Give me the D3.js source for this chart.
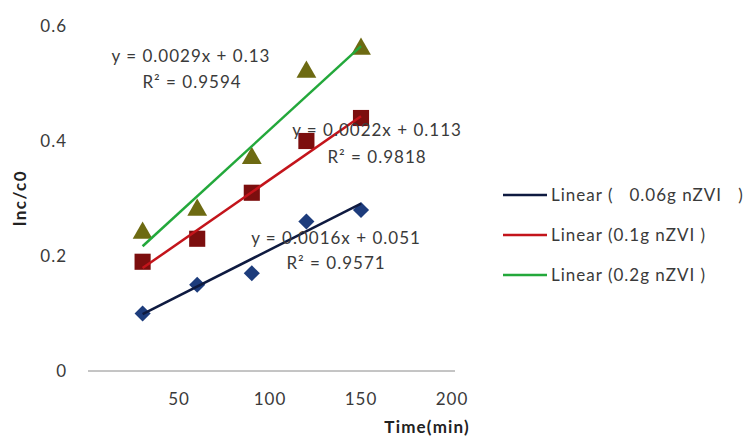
<!DOCTYPE html>
<html>
<head>
<meta charset="utf-8">
<script src="https://cdn.jsdelivr.net/npm/d3@7"></script>
<style>
  body { margin: 0; background: white; }
  text { font-family: Lato, "Open Sans", sans-serif; fill: #3a3a3a; }
</style>
</head>
<body>
<script>
// data
var times = [30, 60, 90, 120, 150]
var dose006 = [0.10, 0.15, 0.17, 0.26, 0.28]
var dose01 = [0.19, 0.23, 0.31, 0.40, 0.44]
var dose02 = [0.24, 0.28, 0.37, 0.52, 0.56]
var slopes = [0.0016, 0.0022, 0.0029]
var intercepts = [0.051, 0.113, 0.13]
var r2 = ["0.9571", "0.9818", "0.9594"]
var legendNames = ["Linear (   0.06g nZVI   )", "Linear (0.1g nZVI )", "Linear (0.2g nZVI )"]
var xTicks = [50, 100, 150, 200]
var yTicks = [0, 0.2, 0.4, 0.6]

var width = 749, height = 436

var svg = d3.select("body").append("svg")
	.attr("width", width).attr("height", height)

var x = d3.scaleLinear().domain([0, 200]).range([88, 452])
var y = d3.scaleLinear().domain([0, 0.6]).range([371, 26])

// x axis line and labels
svg.append("line")
	.attr("x1", x(0)).attr("x2", 455)
	.attr("y1", y(0)).attr("y2", y(0))
	.attr("stroke", "#8a8a8a").attr("stroke-width", 1)

svg.selectAll(".xt").data(xTicks).enter().append("text")
	.attr("x", function(d) { return x(d) }).attr("y", 405)
	.attr("text-anchor", "middle").attr("font-size", 17).attr("letter-spacing", 1)
	.text(function(d) { return d })

svg.selectAll(".yt").data(yTicks).enter().append("text")
	.attr("x", 67).attr("y", function(d) { return y(d) })
	.attr("dy", "0.35em")
	.attr("text-anchor", "end").attr("font-size", 17).attr("letter-spacing", 1)
	.text(function(d) { return d })

svg.append("text").text("Time(min)")
	.attr("x", 470).attr("y", 433)
	.attr("text-anchor", "end").attr("font-size", 17).attr("font-weight", "bold")
	.attr("letter-spacing", 1.2)
	.style("fill", "#222")

svg.append("text").text("lnc/c0")
	.attr("transform", "translate(26,198) rotate(-90)")
	.attr("text-anchor", "middle").attr("font-size", 17).attr("font-weight", "bold")
	.attr("letter-spacing", 1.5)
	.style("fill", "#222")

var series = [
	{ values: dose006, line: "#0e1a40", mark: "#1d3c7c", shape: d3.symbolSquare, size: 130, rot: 45,
	  eq: [336, 244], r2pos: [336, 269] },
	{ values: dose01, line: "#c3141b", mark: "#7c0e0e", shape: d3.symbolSquare, size: 260, rot: 0,
	  eq: [377, 136], r2pos: [377, 163] },
	{ values: dose02, line: "#23a83b", mark: "#6d6a12", shape: d3.symbolTriangle, size: 170, rot: 0,
	  eq: [191, 62], r2pos: [192, 88] }
]

// markers first, trendlines on top
series.forEach(function(s) {
	svg.selectAll(null).data(s.values).enter().append("path")
		.attr("d", d3.symbol().type(s.shape).size(s.size))
		.attr("transform", function(d, i) {
			return "translate(" + x(times[i]) + "," + y(d) + ") rotate(" + s.rot + ")"
		})
		.attr("fill", s.mark)
})

series.forEach(function(s, k) {
	var x0 = times[0], x1 = times[times.length - 1]
	svg.append("line")
		.attr("x1", x(x0)).attr("y1", y(slopes[k] * x0 + intercepts[k]))
		.attr("x2", x(x1)).attr("y2", y(slopes[k] * x1 + intercepts[k]))
		.attr("stroke", s.line).attr("stroke-width", 2.5)
})

series.forEach(function(s, k) {
	svg.append("text")
		.attr("x", s.eq[0]).attr("y", s.eq[1])
		.attr("text-anchor", "middle").attr("font-size", 17).attr("letter-spacing", 1)
		.text("y = " + slopes[k] + "x + " + intercepts[k])
	svg.append("text")
		.attr("x", s.r2pos[0]).attr("y", s.r2pos[1])
		.attr("text-anchor", "middle").attr("font-size", 17).attr("letter-spacing", 1)
		.text("R² = " + r2[k])
})

// legend
var legend = svg.append("g")
series.forEach(function(s, k) {
	var ly = 195 + k * 40
	legend.append("line")
		.attr("x1", 503).attr("x2", 547).attr("y1", ly).attr("y2", ly)
		.attr("stroke", s.line).attr("stroke-width", 2.5)
	legend.append("text")
		.attr("x", 551).attr("y", ly).attr("dy", "0.35em")
		.attr("font-size", 17).attr("letter-spacing", 1)
		.style("white-space", "pre")
		.text(legendNames[k])
})
</script>
</body>
</html>
